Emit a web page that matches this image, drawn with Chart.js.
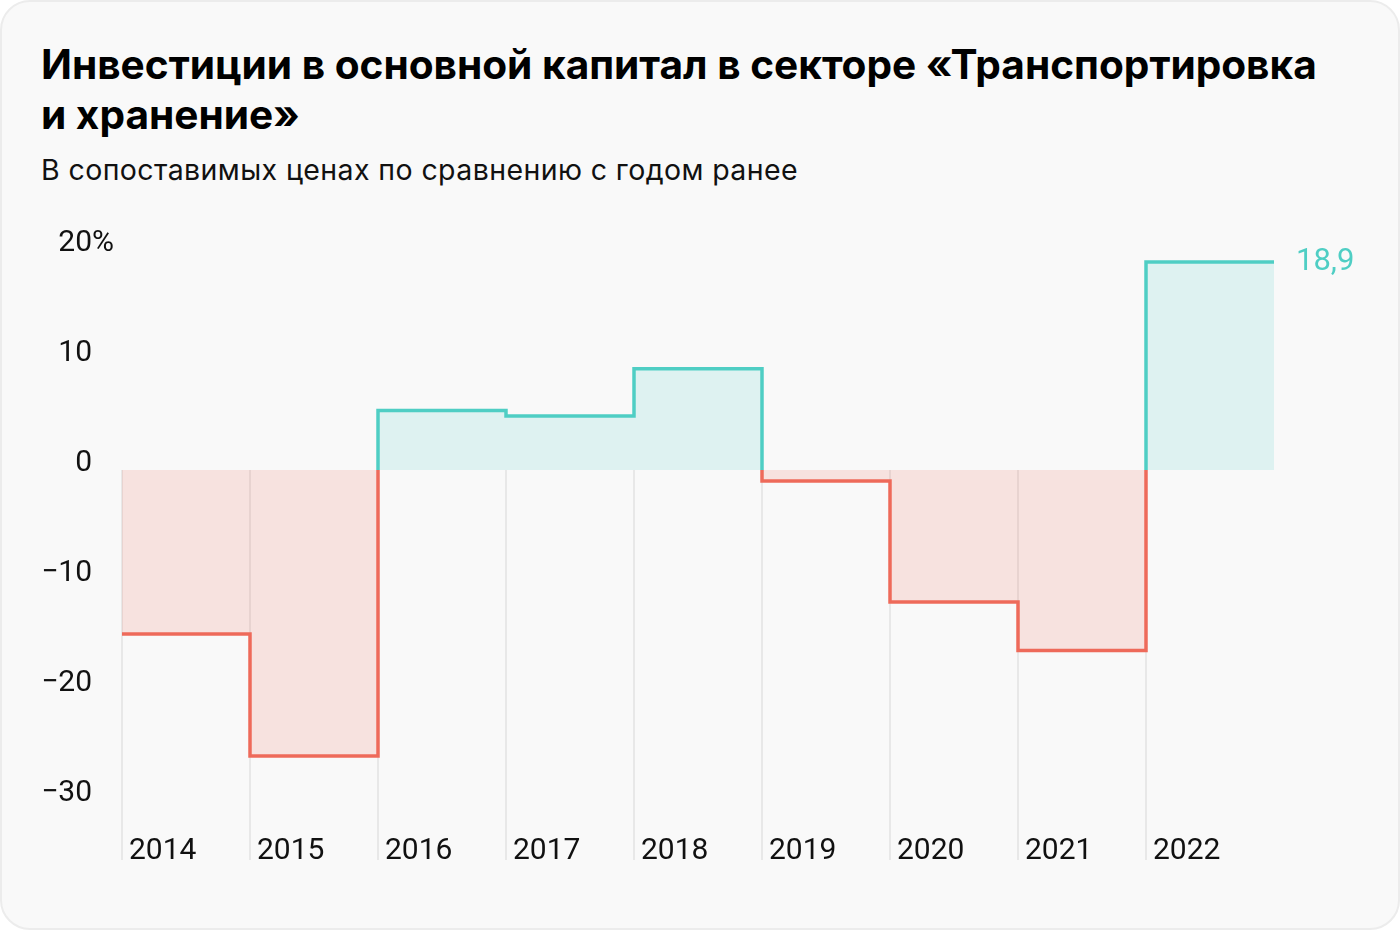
<!DOCTYPE html>
<html lang="ru">
<head>
<meta charset="utf-8">
<title>Инвестиции в основной капитал</title>
<script src="https://cdn.jsdelivr.net/npm/chart.js@4.4.1/dist/chart.umd.min.js"></script>
<style>
  html, body { margin: 0; padding: 0; background: #ffffff; }
  .card {
    position: relative;
    width: 1396px; height: 926px;
    margin: 0;
    background: #f9f9f9;
    border: 2px solid #ececec;
    border-radius: 30px;
    overflow: hidden;
    font-family: Inter, Roboto, "Noto Sans", sans-serif;
    color: #000;
  }
  h1 {
    position: absolute; left: 39px; top: 38px; margin: 0;
    font-size: 40.6px; line-height: 50px; font-weight: 700; letter-spacing: 0;
    width: 1340px; white-space: nowrap;
  }
  .sub {
    position: absolute; left: 39px; top: 150px; margin: 0;
    font-size: 28.5px; line-height: 36px; letter-spacing: 0.4px; color: #111; white-space: nowrap;
  }
  canvas { position: absolute; left: -2px; top: -2px; }
</style>
</head>
<body>
<div class="card">
  <h1>Инвестиции в основной капитал в секторе «Транспортировка<br>и хранение»</h1>
  <div class="sub">В сопоставимых ценах по сравнению с годом ранее</div>
  <canvas id="chart" width="1400" height="930"></canvas>
</div>
<script>
const years = ['2014', '2015', '2016', '2017', '2018', '2019', '2020', '2021', '2022']
const growth = [-14.9, -26.0, 5.4, 4.9, 9.2, -1.0, -12.0, -16.4, 18.9]
const yTicks = [20, 10, 0, -10, -20, -30]
const lastLabel = '18,9'

const teal = '#4fcec4'
const red = '#ee6a5a'
const font = 'Roboto, "Noto Sans", sans-serif'

// step points: each year spans [i, i+1]
const points = years.map((y, i) => ({ x: i, y: growth[i] }))
points.push({ x: years.length, y: growth[growth.length - 1] })

function splitColor(context) {
  const chart = context.chart
  const area = chart.chartArea
  if (!area) return teal
  const zero = chart.scales.y.getPixelForValue(0)
  const g = chart.ctx.createLinearGradient(0, area.top, 0, area.bottom)
  const s = Math.min(Math.max((zero - area.top) / (area.bottom - area.top), 0), 1)
  g.addColorStop(0, teal)
  g.addColorStop(s, teal)
  g.addColorStop(s, red)
  g.addColorStop(1, red)
  return g
}

const decor = {
  id: 'decor',
  beforeDatasetsDraw(chart) {
    const { ctx, chartArea, scales } = chart
    const zero = scales.y.getPixelForValue(0)
    ctx.save()
    ctx.strokeStyle = '#e2e2e2'
    ctx.lineWidth = 1.5
    years.forEach((y, i) => {
      const x = scales.x.getPixelForValue(i)
      ctx.beginPath()
      ctx.moveTo(x, zero)
      ctx.lineTo(x, chartArea.bottom + 60)
      ctx.stroke()
    })
    ctx.restore()
  },
  afterDraw(chart) {
    const { ctx, chartArea, scales } = chart
    ctx.save()
    ctx.font = '30px ' + font
    ctx.fillStyle = '#111'
    ctx.textBaseline = 'alphabetic'
    yTicks.forEach(v => {
      const y = scales.y.getPixelForValue(v) + 1
      const txt = v < 0 ? '\u2212' + Math.abs(v) : String(v)
      ctx.textAlign = 'right'
      ctx.fillText(txt, 92, y)
      if (v === yTicks[0]) {
        ctx.textAlign = 'left'
        ctx.fillText('%', 92, y)
      }
    })
    ctx.textAlign = 'left'
    years.forEach((y, i) => {
      ctx.fillText(y, scales.x.getPixelForValue(i) + 7, chartArea.bottom + 59)
    })
    ctx.fillStyle = teal
    ctx.font = '31px ' + font
    ctx.textBaseline = 'middle'
    ctx.fillText(lastLabel, scales.x.getPixelForValue(years.length) + 22,
      scales.y.getPixelForValue(growth[growth.length - 1]))
    ctx.restore()
  }
}

new Chart(document.getElementById('chart'), {
  type: 'line',
  data: {
    datasets: [{
      data: points,
      stepped: 'before',
      borderWidth: 3.5,
      borderColor: splitColor,
      borderJoinStyle: 'miter',
      borderCapStyle: 'butt',
      pointRadius: 0,
      fill: {
        target: 'origin',
        above: 'rgba(79, 206, 196, 0.16)',
        below: 'rgba(238, 106, 90, 0.16)'
      }
    }]
  },
  options: {
    responsive: false,
    animation: false,
    layout: {
      padding: { left: 122, right: 126, top: 250, bottom: 130 }
    },
    plugins: {
      legend: { display: false },
      tooltip: { enabled: false }
    },
    scales: {
      x: { type: 'linear', min: 0, max: years.length, display: false },
      y: { min: -30, max: 20, display: false }
    }
  },
  plugins: [decor]
})
</script>
</body>
</html>
